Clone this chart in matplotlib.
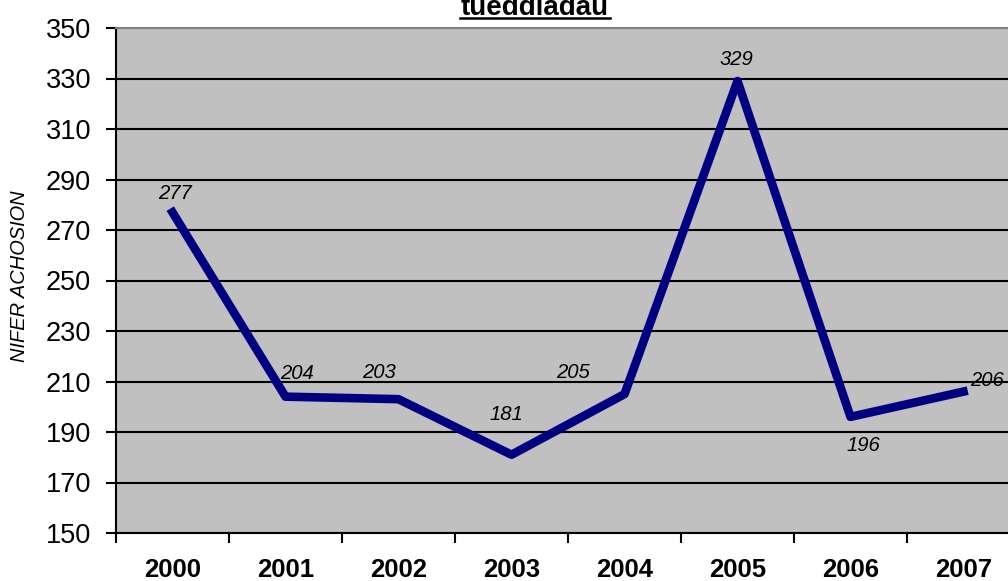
import numpy as np
import matplotlib
matplotlib.use("Agg")
import matplotlib.pyplot as plt
from matplotlib.lines import Line2D

plt.rcParams['font.family'] = ['Liberation Sans', 'DejaVu Sans']

# data
years = ['2000', '2001', '2002', '2003', '2004', '2005', '2006', '2007']
cases = [277, 204, 203, 181, 205, 329, 196, 206]
title = 'tueddiadau'
ylabel = 'NIFER ACHOSION'

# label offsets in pixels (dx, dy) relative to each point
offsets = [(2, 19), (11, 23), (-19, 27), (-5, 40), (-52, 22), (-1, 22), (13, -29), (23, 11)]

W, H = 1008, 581
fig = plt.figure(figsize=(W / 100, H / 100), dpi=100)
ax = fig.add_axes([116 / W, 1 - 533 / H, 904 / W, 505 / H])
ax.set_facecolor('#C0C0C0')

x = np.arange(len(years))
ax.plot(x, cases, color='#000080', lw=6.2, zorder=3)

for xi, v, (dx, dy) in zip(x, cases, offsets):
    ax.annotate(str(v), (xi, v), xytext=(dx, dy), textcoords='offset pixels',
                ha='center', va='center', fontsize=14.6, style='italic', zorder=4)

ax.set_xlim(-0.5, len(years) - 0.5)
ax.set_ylim(150, 350)
ax.set_yticks(range(150, 351, 20))
ax.tick_params(axis='y', labelsize=19.5, length=7, width=1.5, pad=11)

ax.set_xticks(np.arange(-0.5, len(years), 1))
ax.set_xticklabels([])
ax.set_xticks(x, minor=True)
ax.set_xticklabels(years, minor=True, fontweight='bold', fontsize=18.5)
ax.tick_params(axis='x', which='major', length=7, width=1.5)
ax.tick_params(axis='x', which='minor', length=0, pad=18)

ax.yaxis.grid(True, color='black', lw=1.5)
ax.set_axisbelow(True)
gl = ax.yaxis.get_gridlines()
gl[-1].set_color('#808080')

ax.spines['right'].set_visible(False)
ax.spines['top'].set_color('#808080')
ax.spines['top'].set_linewidth(1.5)
ax.spines['left'].set_linewidth(1.5)
ax.spines['bottom'].set_linewidth(1.5)

fig.text(20 / W, 1 - 276 / H, ylabel, rotation=90, ha='center', va='center',
         fontsize=14.4, style='italic')

fig.text(535 / W, 1 - 15 / H, title, ha='center', va='baseline',
         fontsize=20, fontweight='bold')
fig.add_artist(Line2D([460 / W, 610 / W], [1 - 18 / H, 1 - 18 / H],
                      color='black', lw=1.8, transform=fig.transFigure))

fig.savefig('out.png', dpi=100)
